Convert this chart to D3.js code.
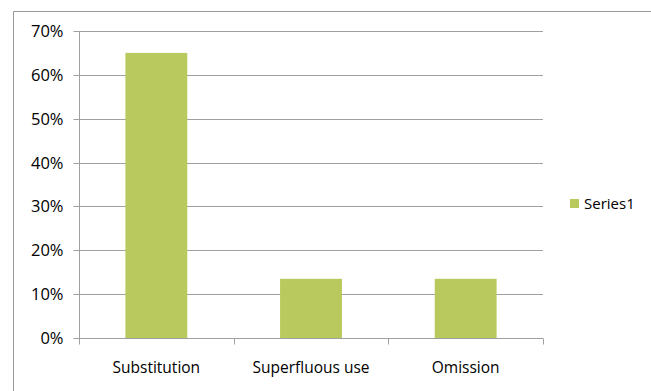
<!DOCTYPE html>
<html><head><meta charset="utf-8">
<script src="https://cdn.jsdelivr.net/npm/d3@7"></script>
<style>body{margin:0;background:#fff}svg{display:block}text{font-family:"Open Sans","Noto Sans",sans-serif;fill:#000}</style>
</head><body>
<svg id="c" width="651" height="391"></svg>
<script>
const categories = ["Substitution", "Superfluous use", "Omission"];
const values = [0.65, 0.135, 0.135];
const yTicks = [0, 0.1, 0.2, 0.3, 0.4, 0.5, 0.6, 0.7];
const seriesName = "Series1";

const svg = d3.select("#c");
// outer chart border (top & left visible)
svg.append("line").attr("x1",13.5).attr("x2",651).attr("y1",11.5).attr("y2",11.5).attr("stroke","#9a9a9a");
svg.append("line").attr("x1",13.5).attr("x2",13.5).attr("y1",11.5).attr("y2",391).attr("stroke","#9a9a9a");

const L=79, R=543, T=31, B=338;
const x = d3.scaleBand().domain(categories).range([L,R]).paddingInner(0.6).paddingOuter(0.3);
const y = d3.scaleLinear().domain([0,0.7]).range([B,T]);

// gridlines
svg.append("g").selectAll("line").data(yTicks.slice(1)).join("line")
  .attr("x1",L).attr("x2",R).attr("y1",d=>Math.round(y(d))+0.5).attr("y2",d=>Math.round(y(d))+0.5)
  .attr("stroke","#a0a0a0");

// bars
svg.append("g").selectAll("rect").data(values).join("rect")
  .attr("x",(d,i)=>x(categories[i])).attr("width",x.bandwidth())
  .attr("y",d=>y(d)).attr("height",d=>B-y(d)).attr("fill","#b9c95d");

// y axis
const ya = svg.append("g").attr("transform",`translate(${L+0.5},0)`)
  .call(d3.axisLeft(y).tickValues(yTicks).tickFormat(d3.format(".0%")).tickSize(6).tickPadding(10));
ya.select(".domain").attr("stroke","#a0a0a0").attr("d",`M0,${T}V${B}`);
ya.selectAll(".tick line").attr("stroke","#a0a0a0");
ya.selectAll(".tick").attr("transform",d=>`translate(0,${Math.round(y(d))+0.5})`);
ya.selectAll("text").attr("font-size",16.5).attr("font-family","'Open Sans',sans-serif").attr("fill","#000");

// x axis
const xa = svg.append("g").attr("transform",`translate(0,${B+0.5})`);
xa.append("line").attr("x1",L).attr("x2",R).attr("stroke","#a0a0a0");
const bounds = [L, L+(R-L)/3, L+2*(R-L)/3, R];
xa.selectAll(".tk").data(bounds).join("line").attr("class","tk")
  .attr("x1",d=>Math.round(d)+0.5).attr("x2",d=>Math.round(d)+0.5).attr("y1",0).attr("y2",6).attr("stroke","#a0a0a0");
xa.selectAll("text").data(categories).join("text")
  .attr("x",d=>x(d)+x.bandwidth()/2).attr("y",34).attr("text-anchor","middle")
  .attr("font-size",15.5).text(d=>d);

// legend
const lg = svg.append("g").attr("transform","translate(570,199)");
lg.append("rect").attr("width",9).attr("height",9).attr("fill","#b9c95d");
lg.append("text").attr("x",14).attr("y",10).attr("font-size",15).text(seriesName);
</script>
</body></html>
